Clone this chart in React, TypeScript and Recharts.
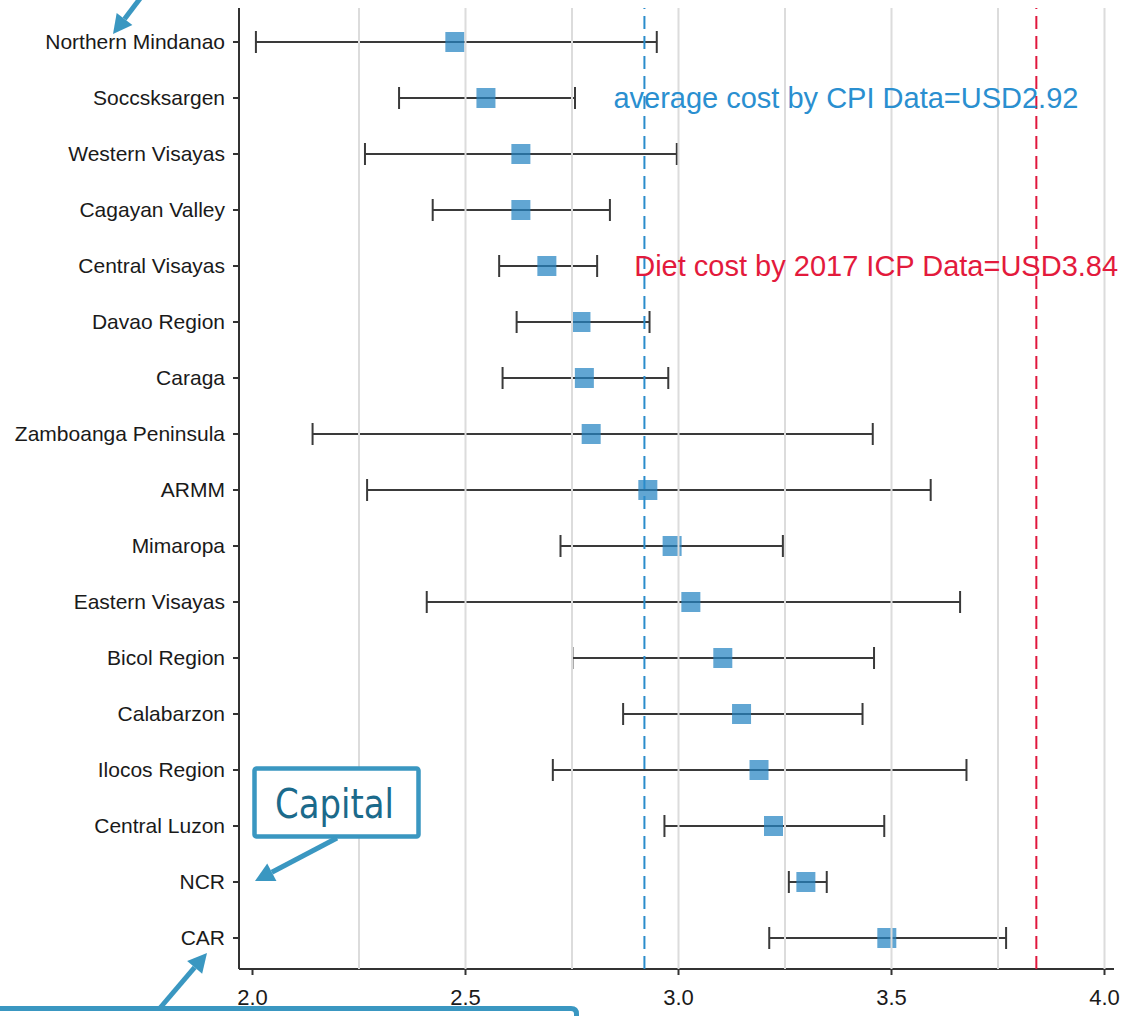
import React from "react";
import {
  ErrorBar,
  Label,
  ReferenceDot,
  ReferenceLine,
  Scatter,
  ScatterChart,
  XAxis,
  YAxis,
} from "recharts";

const regions = [
  "Northern Mindanao",
  "Soccsksargen",
  "Western Visayas",
  "Cagayan Valley",
  "Central Visayas",
  "Davao Region",
  "Caraga",
  "Zamboanga Peninsula",
  "ARMM",
  "Mimaropa",
  "Eastern Visayas",
  "Bicol Region",
  "Calabarzon",
  "Ilocos Region",
  "Central Luzon",
  "NCR",
  "CAR",
];

const meanCost = [
  2.475, 2.548, 2.63, 2.63, 2.691, 2.771, 2.779, 2.795, 2.928, 2.985, 3.029,
  3.104, 3.148, 3.189, 3.223, 3.299, 3.489,
];
const lowerCost = [
  2.008, 2.344, 2.264, 2.423, 2.579, 2.62, 2.587, 2.141, 2.269, 2.723, 2.409,
  2.751, 2.87, 2.705, 2.967, 3.259, 3.213,
];
const upperCost = [
  2.949, 2.757, 2.996, 2.839, 2.809, 2.932, 2.976, 3.456, 3.592, 3.245, 3.661,
  3.459, 3.432, 3.676, 3.483, 3.348, 3.769,
];

const xTicks = [2, 2.5, 3, 3.5, 4];
const gridValues = [2.25, 2.5, 2.75, 3, 3.25, 3.5, 3.75, 4];

const cpiAverage = 2.92;
const icpDietCost = 3.84;
const cpiText = "average cost by CPI Data=USD2.92";
const icpText = "Diet cost by 2017 ICP Data=USD3.84";

const data = regions.map((region, i) => ({
  region,
  cost: meanCost[i],
  err: [meanCost[i] - lowerCost[i], upperCost[i] - meanCost[i]],
}));

const AXIS = "#333333";
const CALLOUT = "#3a97c1";

function SquarePoint(props: any) {
  const { cx, cy } = props;
  if (cx == null || cy == null) return null;
  return (
    <rect
      x={cx - 9.5}
      y={cy - 10}
      width={19}
      height={20}
      fill="#2484c2"
      fillOpacity={0.72}
    />
  );
}

function Arrow({
  x1,
  y1,
  x2,
  y2,
  head = 19,
}: {
  x1: number;
  y1: number;
  x2: number;
  y2: number;
  head?: number;
}) {
  const a = Math.atan2(y2 - y1, x2 - x1);
  const bx = x2 - head * Math.cos(a);
  const by = y2 - head * Math.sin(a);
  const hw = head * 0.52;
  const pts = [
    `${x2},${y2}`,
    `${bx + hw * Math.sin(a)},${by - hw * Math.cos(a)}`,
    `${bx - hw * Math.sin(a)},${by + hw * Math.cos(a)}`,
  ].join(" ");
  return (
    <g>
      <line x1={x1} y1={y1} x2={bx} y2={by} stroke={CALLOUT} strokeWidth={5} />
      <polygon points={pts} fill={CALLOUT} />
    </g>
  );
}

function Callouts() {
  return (
    <svg
      width={1127}
      height={1016}
      style={{ position: "absolute", left: 0, top: 0, pointerEvents: "none" }}
    >
      <Arrow x1={142} y1={-4} x2={113} y2={34} />
      <rect
        x={254.5}
        y={768.5}
        width={164}
        height={68}
        rx={2}
        fill="#ffffff"
        stroke={CALLOUT}
        strokeWidth={4.5}
      />
      <text
        x={275}
        y={818}
        fontFamily="'DejaVu Sans', Verdana, sans-serif"
        fontSize={40}
        fill="#1b6a8b"
        textLength={119}
        lengthAdjust="spacingAndGlyphs"
      >
        Capital
      </text>
      <Arrow x1={337} y1={838} x2={255} y2={881} />
      <path
        d="M -5 1008.5 L 571 1008.5 Q 576.5 1008.5 576.5 1014 L 576.5 1030"
        fill="#ffffff"
        stroke={CALLOUT}
        strokeWidth={5}
      />
      <Arrow x1={160} y1={1008} x2={207} y2={953} />
    </svg>
  );
}

export default function App() {
  return (
    <div
      style={{
        position: "absolute",
        left: 0,
        top: 0,
        width: 1127,
        height: 1016,
        background: "#ffffff",
        fontFamily: "'Liberation Sans', Arial, sans-serif",
        overflow: "hidden",
      }}
    >
      <ScatterChart
        width={1127}
        height={1016}
        margin={{ top: 8, right: 13, bottom: 7, left: 0 }}
      >
        <XAxis
          type="number"
          dataKey="cost"
          domain={[1.9683, 4.0223]}
          allowDataOverflow
          ticks={xTicks}
          tickFormatter={(v: number) => v.toFixed(1)}
          height={40}
          tickSize={6}
          tickMargin={14}
          axisLine={{ stroke: AXIS, strokeWidth: 2 }}
          tickLine={{ stroke: AXIS, strokeWidth: 2 }}
          tick={{ fill: "#1a1a1a", fontSize: 22 }}
        />
        <YAxis
          type="category"
          dataKey="region"
          allowDuplicatedCategory={false}
          scale="point"
          reversed
          padding={{ top: 34, bottom: 31 }}
          width={239}
          interval={0}
          tickSize={6}
          tickMargin={8}
          axisLine={{ stroke: AXIS, strokeWidth: 2 }}
          tickLine={{ stroke: AXIS, strokeWidth: 2 }}
          tick={{ fill: "#1a1a1a", fontSize: 21 }}
        />
        <Scatter data={data} shape={<SquarePoint />} isAnimationActive={false}>
          <ErrorBar
            dataKey="err"
            direction="x"
            width={11}
            stroke="#3a3a3a"
            strokeWidth={2}
            isAnimationActive={false}
          />
        </Scatter>
        {gridValues.map((v) => (
          <ReferenceLine
            key={v}
            x={v}
            stroke="#dcdcdc"
            strokeWidth={2}
            zIndex={1000}
          />
        ))}
        <ReferenceLine
          x={cpiAverage}
          stroke="#2a8ccb"
          strokeWidth={2}
          strokeDasharray="13 7"
          zIndex={1001}
        />
        <ReferenceLine
          x={icpDietCost}
          stroke="#e0173d"
          strokeWidth={2}
          strokeDasharray="13 7"
          zIndex={1001}
        />
        <ReferenceDot x={3.393} y="Soccsksargen" r={0} fill="none" stroke="none">
          <Label value={cpiText} position="center" fill="#2a8fd0" fontSize={29} />
        </ReferenceDot>
        <ReferenceDot x={3.464} y="Central Visayas" r={0} fill="none" stroke="none">
          <Label value={icpText} position="center" fill="#e31a3c" fontSize={29} />
        </ReferenceDot>
      </ScatterChart>
      <Callouts />
    </div>
  );
}
